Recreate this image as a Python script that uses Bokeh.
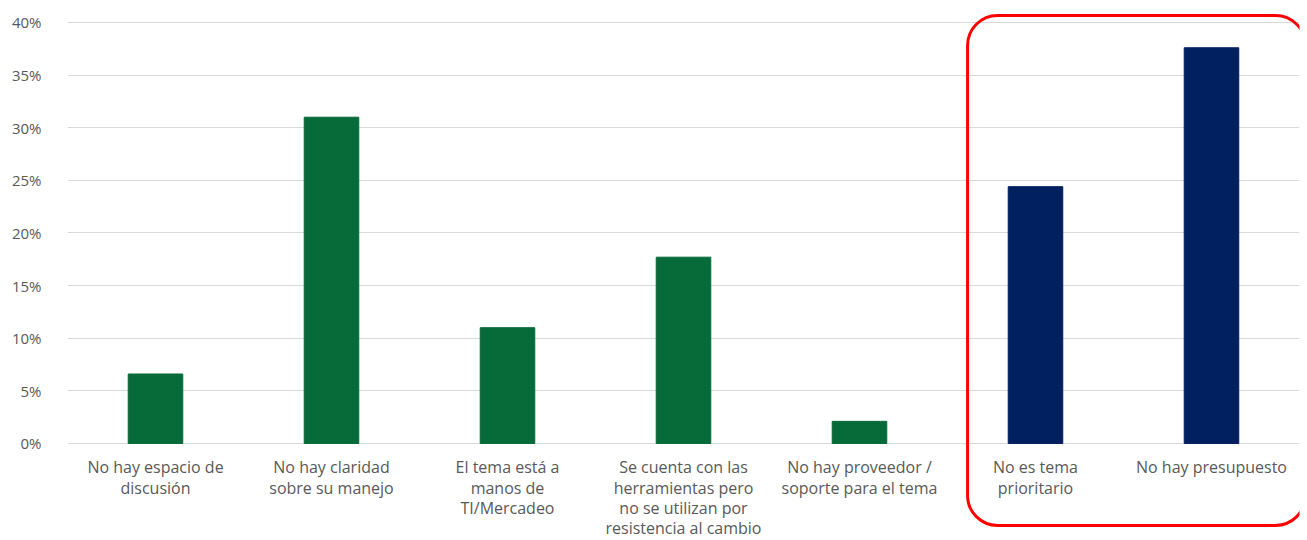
from bokeh.plotting import figure
from bokeh.models import FactorRange, Range1d, FixedTicker, NumeralTickFormatter, BoxAnnotation, ColumnDataSource
from bokeh.core.properties import value
from bokeh.embed import file_html
from bokeh.resources import INLINE

categories = [
    "No hay espacio de discusión",
    "No hay claridad sobre su manejo",
    "El tema está a manos de TI/Mercadeo",
    "Se cuenta con las herramientas pero no se utilizan por resistencia al cambio",
    "No hay proveedor / soporte para el tema",
    "No es tema prioritario",
    "No hay presupuesto",
]
tick_labels = [
    "No hay espacio de\ndiscusión",
    "No hay claridad\nsobre su manejo",
    "El tema está a\nmanos de\nTI/Mercadeo",
    "Se cuenta con las\nherramientas pero\nno se utilizan por\nresistencia al cambio",
    "No hay proveedor /\nsoporte para el tema",
    "No es tema\nprioritario",
    "No hay presupuesto",
]
values = [0.066, 0.310, 0.110, 0.177, 0.021, 0.244, 0.376]
colors = ["#076A39"] * 5 + ["#002060"] * 2
y_ticks = [0, 0.05, 0.10, 0.15, 0.20, 0.25, 0.30, 0.35, 0.40]

src = ColumnDataSource(dict(cat=categories, val=values, color=colors, label=tick_labels))

p = figure(
    width=1307, height=540,
    x_range=FactorRange(*categories, range_padding=0),
    y_range=Range1d(-0.0922, 0.4209),
    x_axis_location=None,
    min_border_left=67, min_border_right=8, min_border_top=0, min_border_bottom=0,
    outline_line_color=None, toolbar_location=None, output_backend="svg",
)

p.xgrid.visible = False
p.yaxis.ticker = FixedTicker(ticks=y_ticks)
p.yaxis.formatter = NumeralTickFormatter(format="0%")
p.yaxis.axis_line_color = None
p.yaxis.major_tick_line_color = None
p.yaxis.minor_tick_line_color = None
p.yaxis.major_label_standoff = 20
p.yaxis.major_label_text_font = "Open Sans"
p.yaxis.major_label_text_font_size = "15px"
p.yaxis.major_label_text_color = "#595959"
p.ygrid.grid_line_color = "#D9D9D9"
p.ygrid.grid_line_width = 1

p.vbar(x="cat", top="val", bottom=0, width=0.31, fill_color="color", line_color="color", source=src)

p.text(x="cat", y=-0.0122, text="label", source=src,
       text_align="center", text_baseline="top",
       text_font=value("Open Sans"), text_font_size="16px",
       text_color="#595959", text_line_height=0.92)

box = BoxAnnotation(left=5.114, right=7.034, top=0.4067, bottom=-0.0779,
                    fill_alpha=0, line_color="#FF0000", line_alpha=1.0, line_width=3,
                    border_radius=30)
p.add_layout(box)

open("out.html", "w").write(file_html(p, INLINE))
